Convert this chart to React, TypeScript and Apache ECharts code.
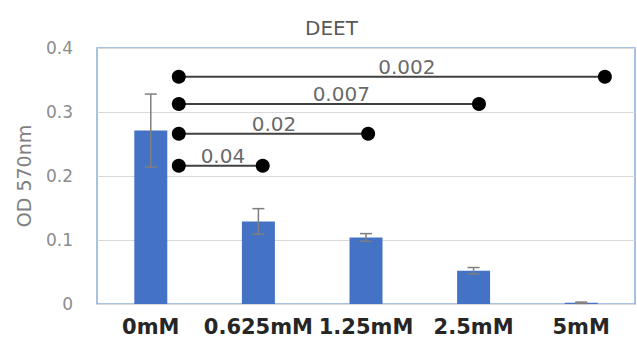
import React, { useEffect, useRef } from "react";
import * as echarts from "echarts";

const categories = ["0mM", "0.625mM", "1.25mM", "2.5mM", "5mM"];
const means = [0.271, 0.129, 0.104, 0.052, 0.002];
const errors = [0.057, 0.02, 0.006, 0.005, 0.001];
const yTicks = [0, 0.1, 0.2, 0.3, 0.4];

const pLabels = ["0.04", "0.02", "0.007", "0.002"];
const bracketY = [0.216, 0.266, 0.3125, 0.355];
const bracketStart = [0.26, 0.26, 0.26, 0.26];
const bracketEnd = [1.04, 2.02, 3.05, 4.22];
const labelX = [0.67, 1.145, 1.77, 2.38];

export default function App() {
  const ref = useRef<HTMLDivElement>(null);
  useEffect(() => {
    document.body.style.margin = "0";
    const chart = echarts.init(ref.current!, null, { renderer: "svg" });
    const bracketSeries = pLabels.map((p, i) => ({
      type: "line",
      name: "p" + p,
      xAxisIndex: 1,
      yAxisIndex: 0,
      data: [
        [bracketStart[i], bracketY[i]],
        [bracketEnd[i], bracketY[i]],
      ],
      symbol: "circle",
      symbolSize: 14,
      itemStyle: { color: "#000" },
      lineStyle: { color: "#404040", width: 2 },
      z: 5,
    }));
    chart.setOption({
      animation: false,
      title: {
        text: "DEET",
        left: 300,
        top: 13,
        textStyle: {
          fontFamily: "DejaVu Sans",
          fontSize: 20,
          fontWeight: "normal",
          color: "#595959",
        },
      },
      grid: {
        left: 97,
        top: 48,
        width: 538,
        height: 256,
        show: true,
        borderColor: "#8eaadb",
        borderWidth: 1.5,
        backgroundColor: "transparent",
      },
      xAxis: [
        {
          type: "category",
          data: categories,
          axisLine: { show: false },
          axisTick: { show: false },
          axisLabel: {
            interval: 0,
            fontFamily: "DejaVu Sans",
            fontWeight: "bold",
            fontSize: 21,
            color: "#262626",
            margin: 12,
          },
        },
        {
          type: "value",
          min: -0.5,
          max: 4.5,
          show: false,
        },
      ],
      yAxis: {
        type: "value",
        min: 0,
        max: 0.4,
        interval: 0.1,
        name: "OD 570nm",
        nameLocation: "middle",
        nameGap: 64,
        nameTextStyle: {
          fontFamily: "DejaVu Sans",
          fontSize: 19,
          color: "#7f7f7f",
        },
        axisLine: { show: false },
        axisTick: { show: false },
        axisLabel: {
          fontFamily: "DejaVu Sans",
          fontSize: 17,
          color: "#8c8c8c",
          margin: 24,
          formatter: (v: number) => (yTicks.includes(Number(v.toFixed(1))) ? String(Number(v.toFixed(1))) : ""),
        },
        splitLine: { lineStyle: { color: "#d9d9d9", width: 1 } },
      },
      series: [
        {
          type: "bar",
          data: means,
          barWidth: 33,
          itemStyle: { color: "#4472c4" },
          z: 2,
        },
        {
          type: "custom",
          data: means.map((m, i) => [i, m - errors[i], m + errors[i]]),
          z: 3,
          renderItem: (params: any, api: any) => {
            const x = api.value(0);
            const lo = api.coord([x, api.value(1)]);
            const hi = api.coord([x, api.value(2)]);
            const cap = 6;
            const style = { stroke: "#7f7f7f", lineWidth: 1.5 };
            return {
              type: "group",
              children: [
                { type: "line", shape: { x1: lo[0], y1: lo[1], x2: hi[0], y2: hi[1] }, style },
                { type: "line", shape: { x1: hi[0] - cap, y1: hi[1], x2: hi[0] + cap, y2: hi[1] }, style },
                { type: "line", shape: { x1: lo[0] - cap, y1: lo[1], x2: lo[0] + cap, y2: lo[1] }, style },
              ],
            };
          },
        },
        ...bracketSeries,
        {
          type: "scatter",
          xAxisIndex: 1,
          yAxisIndex: 0,
          symbolSize: 0,
          data: pLabels.map((p, i) => ({ value: [labelX[i], bracketY[i]], name: p })),
          label: {
            show: true,
            position: "top",
            distance: 0,
            formatter: (d: any) => d.name,
            fontFamily: "DejaVu Sans",
            fontSize: 20,
            color: "#404040",
          },
          z: 6,
        },
      ],
    });
    return () => chart.dispose();
  }, []);
  return <div ref={ref} style={{ width: 637, height: 339 }} />;
}
